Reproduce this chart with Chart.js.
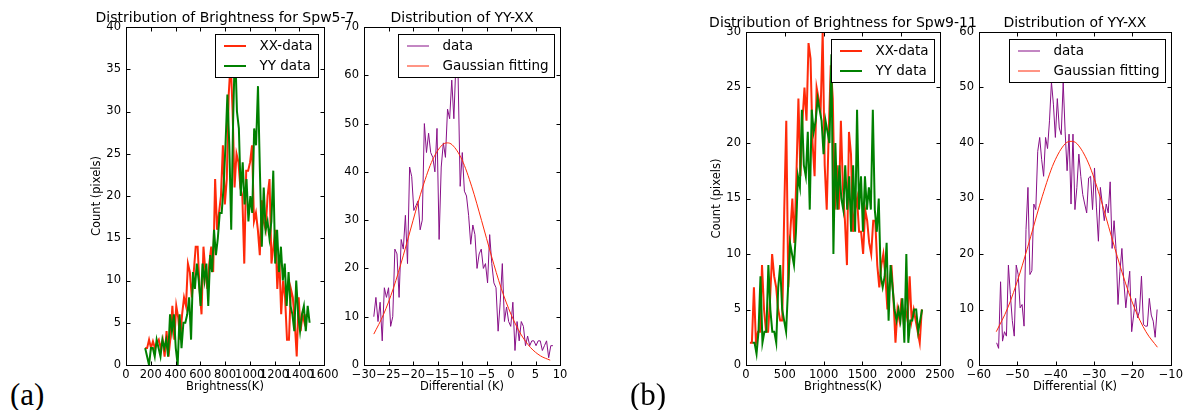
<!DOCTYPE html>
<html>
<head>
<meta charset="utf-8">
<title>Distribution of Brightness</title>
<script src="https://cdn.jsdelivr.net/npm/chart.js@4.4.0/dist/chart.umd.min.js"></script>
<style>
	body { margin: 0; background: #fff; width: 1186px; height: 410px; position: relative; overflow: hidden; }
	canvas { position: absolute; top: 0; }
	.tag { position: absolute; top: 379px; font-family: "Liberation Serif", serif; font-size: 31px; line-height: 1; }
</style>
</head>
<body>
	<canvas id="c1" width="300" height="410" style="left:60px"></canvas>
	<canvas id="c2" width="250" height="410" style="left:330px"></canvas>
	<canvas id="c3" width="330" height="410" style="left:660px"></canvas>
	<canvas id="c4" width="241" height="410" style="left:945px"></canvas>
	<div class="tag" style="left:10px">(a)</div>
	<div class="tag" style="left:630px">(b)</div>
<script>
// ---- Spw5-7 brightness histograms (bin start, bin width, counts) ----
var xxStart57 = 155, xxStep57 = 15.7;
var xxCounts57 = [2,2,3,2,2.8,2,2.6,3,2,3, 1,4,1,3.2,7,3,7,5.6,3,6,
	8,7,12,11,8,11,14,14,9,6, 14,11,9,12,14,11,22,16,18,20,
	26,19,22,32,36,30,21,25,24,21, 20,12,23,23,24,26,17,18,16,13,
	19.5,17,16,20,22,12,14,16,9,13, 6,10,8,3,3,9,8,5,1,8, 4,6,5,6];
var yyStart57 = 155, yyStep57 = 15.45;
var yyCounts57 = [2,1,0,2,2,1,3,2,1,3, 2,3,1,6,4,6,2,0,6,2,
	5,5,6,8,3,11,9,12,10,7, 12,10,12,7,13,11,16,13,15,18,
	18,21,26,32,26,16,29,38,30,28, 20,24,19,22,17,20,18,28,26,33,
	23,14,21,16,17,15,17,23,12,16, 11,14,10,12,7,11,7,6,4,10, 6,4,6,7,4,7,5];

// ---- Spw5-7 YY-XX differential ----
var diffStart57 = -28, diffStep57 = 0.43;
var diffCounts57 = [10,14,9,13,5,16,14,16,8,10, 24,23,14,26,24,31,21,41,39,32,
	33,34,28,30,50,44,48,44,43,40, 49,26,41,46,43,53,51,59,51,63,
	60,37,44,36,35,31,25,29,27,20, 23,24,20,21,17,27,21,17,16,7,
	13,21,9,12,9,8,13,3,9,5, 9,8,4,6,4,5,5,4,5,5, 3,4,5,1.5,4,4];
var fitX57 = [-28,-26,-24,-22,-20,-18,-16,-14,-13,-12,-10,-8,-6,-4,-2,0,2,4,6,8];
var fitY57 = [6.4,10.5,15.9,22.6,29.9,36.9,42.5,45.6,46,45.6,42.5,36.9,29.9,22.6,15.9,10.5,6.4,3.6,1.9,1.0];

// ---- Spw9-11 brightness histograms ----
var xxStart911 = 50, xxStep911 = 26.06;
var xxCounts911 = [2,2,7,2,3,3,9,5,3,3, 6,10,8,7,5,4,4,14,22,7,
	12,15,11,17,24,17,22,25,22,29, 27.6,20,17,25,24,23,30,18,14,21,
	27,24,14,18,14,22,16,13,9,21, 19,12,14,15,12,12,10,14,13,11,
	10,13,13,9,7,9,10,8,5,7, 9,6,2,5,4,6,4,5,4,8, 4,5,4,3,2,5];
var yyStart911 = 85, yyStep911 = 25.4;
var yyCounts911 = [2,2,1,3,8,2,3,3,9,5, 3,3,2,7,9,5,4,3,7,11,
	10,9,12,17,16,23,18,17,21,14, 23,21,22,24,23,22,19,22,21,20,
	28,10,20,14,18,15,14,18,14,17, 12,18,12,23,14,17,12,17,14,16,
	14,23,14,12,15,8,7,8,11,4, 9,7,5,4,5,4,6,2,10,2, 4,4,5,5,3,4,5];

// ---- Spw9-11 YY-XX differential ----
var diffStart911 = -55.4, diffStep911 = 0.51;
var diffCounts911 = [4,3,15,4.3,6,5.2,18,12.7,8,5.2, 18,16.3,10.3,10.9,7,24.4,32,16.3,17,29,
	28,38.5,41,37,34,41,39,44,51,47, 41,48,42.7,41.5,51,42,35,41.6,29,41.6,
	28,32,38,34,30.7,29,27.4,33.7,34,28, 35.5,28.3,22.3,32,29,26,29,27.4,33,21,
	26,21,10.9,16.9,21,15,10.3,13.9,16.9,6, 9,12,8.5,9.7,16,7.3,7,7,12,9, 7.9,5,10];
var fitX911 = [-55.5,-52.5,-49.5,-46.5,-43.5,-40.5,-37.5,-36,-34.5,-31.5,-28.5,-25.5,-22.5,-19.5,-16.5,-13.5];
var fitY911 = [6.0,10.3,16.2,23.2,30.4,36.4,39.9,40.3,39.9,36.4,30.4,23.2,16.2,10.3,6.0,3.2];

// ---- tick labels ----
var xTicks57 = [0,200,400,600,800,1000,1200,1400,1600];
var yTicks57 = [0,5,10,15,20,25,30,35,40];
var xTicksDiff57 = [-30,-25,-20,-15,-10,-5,0,5,10];
var yTicksDiff57 = [0,10,20,30,40,50,60,70];
var xTicks911 = [0,500,1000,1500,2000,2500];
var yTicks911 = [0,5,10,15,20,25,30];
var xTicksDiff911 = [-60,-50,-40,-30,-20,-10];
var yTicksDiff911 = [0,10,20,30,40,50,60];

var RED = '#ff2a0a', GREEN = '#008000', PURPLE = '#870f87';

function hist(start, step, counts) {
	return counts.map(function(c, i) { return { x: start + i * step, y: c }; });
}
function pairs(xs, ys) {
	return xs.map(function(x, i) { return { x: x, y: ys[i] }; });
}
function fmt(v) {
	return v < 0 ? '\u2212' + Math.abs(v) : String(v);
}

Chart.defaults.font.family = 'DejaVu Sans';
Chart.defaults.color = '#000';

// matplotlib-like frame: box, inward ticks, boxed legend, titles
var framePlugin = {
	id: 'frame',
	afterDraw: function(chart, args, o) {
		var ctx = chart.ctx, a = chart.chartArea, sx = chart.scales.x, sy = chart.scales.y;
		var L = Math.round(a.left) + 0.5, R = Math.round(a.right) + 0.5;
		var T = Math.round(a.top) + 0.5, B = Math.round(a.bottom) + 0.5;
		ctx.save();
		ctx.strokeStyle = '#000';
		ctx.lineWidth = 1;
		ctx.beginPath();
		sx.ticks.forEach(function(t) {
			var p = Math.round(sx.getPixelForValue(t.value)) + 0.5;
			ctx.moveTo(p, B); ctx.lineTo(p, B - 4);
			ctx.moveTo(p, T); ctx.lineTo(p, T + 4);
		});
		sy.ticks.forEach(function(t) {
			var p = Math.round(sy.getPixelForValue(t.value)) + 0.5;
			ctx.moveTo(L, p); ctx.lineTo(L + 4, p);
			ctx.moveTo(R, p); ctx.lineTo(R - 4, p);
		});
		ctx.stroke();
		ctx.strokeRect(L, T, R - L, B - T);

		// legend
		ctx.font = '13.5px "DejaVu Sans"';
		var sets = chart.data.datasets;
		var tw = 0;
		sets.forEach(function(d) { tw = Math.max(tw, ctx.measureText(d.label).width); });
		var bw = Math.round(tw + 50), bh = 43;
		var bx = Math.round(a.right - 6 - bw) + 0.5, by = Math.round(a.top + 7) + 0.5;
		ctx.fillStyle = '#fff';
		ctx.fillRect(bx, by, bw, bh);
		ctx.strokeRect(bx, by, bw, bh);
		sets.forEach(function(d, i) {
			var y = by + 11.5 + i * 20;
			ctx.strokeStyle = d.borderColor;
			ctx.lineWidth = d.borderWidth;
			ctx.beginPath();
			ctx.moveTo(bx + 8.5, y); ctx.lineTo(bx + 30.5, y);
			ctx.stroke();
			ctx.fillStyle = '#000';
			ctx.textAlign = 'left';
			ctx.textBaseline = 'middle';
			ctx.fillText(d.label, bx + 44, y);
		});

		// title and axis labels
		var cx = (a.left + a.right) / 2;
		ctx.fillStyle = '#000';
		ctx.textAlign = 'center';
		ctx.textBaseline = 'middle';
		ctx.font = '14px "DejaVu Sans"';
		ctx.fillText(o.title, cx, a.top - 8.5);
		ctx.font = '11.5px "DejaVu Sans"';
		ctx.fillText(o.xLabel, cx, a.bottom + 22);
		if (o.yLabel) {
			ctx.translate(a.left - 29, (a.top + a.bottom) / 2);
			ctx.rotate(-Math.PI / 2);
			ctx.fillText(o.yLabel, 0, 0);
		}
		ctx.restore();
	}
};

function makeChart(id, area, datasets, sc, text) {
	var cv = document.getElementById(id);
	var box = { left: cv.offsetLeft, top: cv.offsetTop, w: cv.width, h: cv.height };
	return new Chart(cv.getContext('2d'), {
		type: 'line',
		data: { datasets: datasets },
		plugins: [framePlugin],
		options: {
			responsive: false,
			animation: false,
			devicePixelRatio: 1,
			layout: { padding: { left: 0, bottom: 0, top: area.top - box.top, right: box.left + box.w - area.right } },
			elements: { point: { radius: 0 }, line: { tension: 0 } },
			scales: {
				x: {
					type: 'linear', min: sc.xTicks[0], max: sc.xTicks[sc.xTicks.length - 1],
					grid: { display: false, drawTicks: false }, border: { display: false },
					afterBuildTicks: function(s) { s.ticks = sc.xTicks.map(function(v) { return { value: v }; }); },
					afterFit: function(s) { s.height = box.top + box.h - area.bottom; },
					ticks: { autoSkip: false, maxRotation: 0, minRotation: 0, padding: 3, font: { size: 11.5 }, callback: fmt }
				},
				y: {
					type: 'linear', min: sc.yTicks[0], max: sc.yTicks[sc.yTicks.length - 1],
					grid: { display: false, drawTicks: false }, border: { display: false },
					afterBuildTicks: function(s) { s.ticks = sc.yTicks.map(function(v) { return { value: v }; }); },
					afterFit: function(s) { s.width = area.left - box.left; },
					ticks: { autoSkip: false, padding: 5, font: { size: 11.5 }, callback: fmt }
				}
			},
			plugins: {
				legend: { display: false },
				tooltip: { enabled: false },
				frame: text
			}
		}
	});
}

makeChart('c1', { left: 126, right: 324, top: 27, bottom: 365 }, [
	{ label: 'XX-data', data: hist(xxStart57, xxStep57, xxCounts57), borderColor: RED, borderWidth: 2, order: 1 },
	{ label: 'YY data', data: hist(yyStart57, yyStep57, yyCounts57), borderColor: GREEN, borderWidth: 2, order: 0 }
], { xTicks: xTicks57, yTicks: yTicks57 },
{ title: 'Distribution of Brightness for Spw5-7', xLabel: 'Brightness(K)', yLabel: 'Count (pixels)' });

makeChart('c2', { left: 364, right: 560, top: 27, bottom: 365 }, [
	{ label: 'data', data: hist(diffStart57, diffStep57, diffCounts57), borderColor: PURPLE, borderWidth: 1, order: 1 },
	{ label: 'Gaussian fitting', data: pairs(fitX57, fitY57), borderColor: RED, borderWidth: 1, cubicInterpolationMode: 'monotone', order: 0 }
], { xTicks: xTicksDiff57, yTicks: yTicksDiff57 },
{ title: 'Distribution of YY-XX', xLabel: 'Differential (K)' });

makeChart('c3', { left: 746, right: 940, top: 32, bottom: 365 }, [
	{ label: 'XX-data', data: hist(xxStart911, xxStep911, xxCounts911), borderColor: RED, borderWidth: 2, order: 1 },
	{ label: 'YY data', data: hist(yyStart911, yyStep911, yyCounts911), borderColor: GREEN, borderWidth: 2, order: 0 }
], { xTicks: xTicks911, yTicks: yTicks911 },
{ title: 'Distribution of Brightness for Spw9-11', xLabel: 'Brightness(K)', yLabel: 'Count (pixels)' });

makeChart('c4', { left: 979, right: 1173, top: 32, bottom: 365 }, [
	{ label: 'data', data: hist(diffStart911, diffStep911, diffCounts911), borderColor: PURPLE, borderWidth: 1, order: 1 },
	{ label: 'Gaussian fitting', data: pairs(fitX911, fitY911), borderColor: RED, borderWidth: 1, cubicInterpolationMode: 'monotone', order: 0 }
], { xTicks: xTicksDiff911, yTicks: yTicksDiff911 },
{ title: 'Distribution of YY-XX', xLabel: 'Differential (K)' });
</script>
</body>
</html>
